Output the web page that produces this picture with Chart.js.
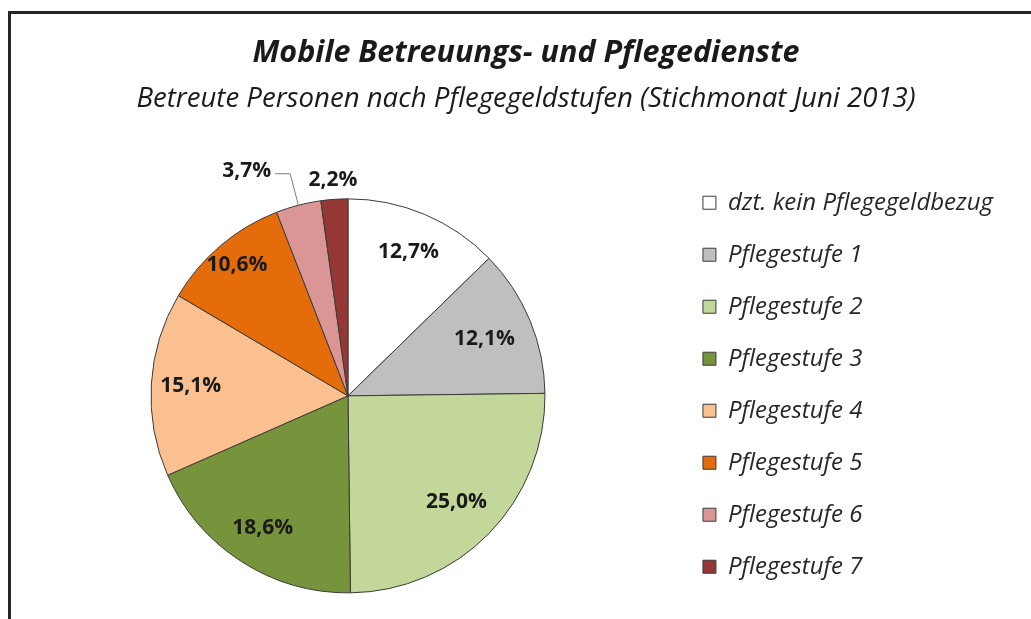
<!DOCTYPE html>
<html>
<head>
<meta charset="utf-8">
<script src="https://cdn.jsdelivr.net/npm/chart.js@4.4.1/dist/chart.umd.min.js"></script>
<style>
  html, body { margin: 0; padding: 0; background: #fff; }
  .chart { position: relative; width: 1031px; height: 619px; overflow: hidden; }
  .chart__frame {
    position: absolute; left: 8px; top: 11px; right: -10px; bottom: -10px;
    border-left: 3px solid #262626; border-top: 3px solid #262626;
    pointer-events: none;
  }
  canvas { display: block; }
</style>
</head>
<body>
<div class="chart">
  <canvas id="pie" width="1031" height="619"></canvas>
  <div class="chart__frame"></div>
</div>
<script>
const categories = [
  "dzt. kein Pflegegeldbezug",
  "Pflegestufe 1",
  "Pflegestufe 2",
  "Pflegestufe 3",
  "Pflegestufe 4",
  "Pflegestufe 5",
  "Pflegestufe 6",
  "Pflegestufe 7",
];
const shares = [12.7, 12.1, 25.0, 18.6, 15.1, 10.6, 3.7, 2.2];

const sliceColors = [
  "#ffffff",
  "#bfbfbf",
  "#c4d79b",
  "#77933c",
  "#fac090",
  "#e46c0a",
  "#d99694",
  "#953735",
];

// how far out the labels sit (fraction of radius), small slices go outside
const labelRadius = [0.79, 0.75, 0.77, 0.8, 0.8, 0.87, 1.25, 1.1];
const labelShift = [0, 0, 0, 0, 0, 0, -9.7, 0];
const leaderLine = [false, false, false, false, false, false, true, false];

const FONT = "'Open Sans', sans-serif";

const formatShare = (v) => v.toFixed(1).replace(".", ",") + "%";

const sliceLabels = {
  id: "sliceLabels",
  afterDatasetsDraw(chart) {
    const ctx = chart.ctx;
    const meta = chart.getDatasetMeta(0);
    ctx.save();
    ctx.font = "bold 21px " + FONT;
    ctx.fillStyle = "#1a1a1a";
    ctx.textAlign = "center";
    ctx.textBaseline = "middle";
    meta.data.forEach((arc, i) => {
      const { x, y, startAngle, endAngle, outerRadius } = arc.getProps(
        ["x", "y", "startAngle", "endAngle", "outerRadius"],
        true,
      );
      const mid = (startAngle + endAngle) / 2;
      const ang = mid + (labelShift[i] * Math.PI) / 180;
      const r = outerRadius * labelRadius[i];
      const tx = x + Math.cos(ang) * r;
      const ty = y + Math.sin(ang) * r;
      const text = formatShare(shares[i]);
      ctx.fillText(text, tx, ty);

      if (leaderLine[i]) {
        const w = ctx.measureText(text).width;
        const ex = x + Math.cos(mid) * outerRadius;
        const ey = y + Math.sin(mid) * outerRadius;
        const kx = x + Math.cos(mid) * outerRadius * 1.165;
        const ky = y + Math.sin(mid) * outerRadius * 1.165;
        ctx.beginPath();
        ctx.strokeStyle = "#7f7f7f";
        ctx.lineWidth = 1;
        ctx.moveTo(ex, ey);
        ctx.lineTo(kx, ky);
        ctx.lineTo(tx + w / 2 + 4, ky);
        ctx.stroke();
      }
    });
    ctx.restore();
  },
};

// nudge boxes: legend a bit higher, titles a bit right of canvas center
const nudgeBoxes = {
  id: "nudgeBoxes",
  afterLayout(chart) {
    chart.legend.top -= 10;
    chart.legend.bottom -= 10;
    chart.boxes
      .filter((box) => box.position === "top")
      .forEach((box) => {
        box.left += 14;
        box.right += 14;
      });
  },
};

const ctx = document.getElementById("pie").getContext("2d");

new Chart(ctx, {
  type: "pie",
  data: {
    labels: categories,
    datasets: [
      {
        data: shares,
        backgroundColor: sliceColors,
        borderColor: "#3a3a3a",
        borderWidth: 1,
        hoverOffset: 0,
        radius: 197,
      },
    ],
  },
  options: {
    responsive: false,
    animation: false,
    layout: {
      padding: { left: 21, right: 28, top: 0, bottom: 0 },
    },
    plugins: {
      title: {
        display: true,
        text: "Mobile Betreuungs- und Pflegedienste",
        color: "#1a1a1a",
        font: { family: FONT, size: 30.5, weight: "bold", style: "italic" },
        padding: { top: 35, bottom: 4 },
      },
      subtitle: {
        display: true,
        text: "Betreute Personen nach Pflegegeldstufen (Stichmonat Juni 2013)",
        color: "#1a1a1a",
        font: { family: FONT, size: 27.6, style: "italic" },
        padding: { top: 7, bottom: 57 },
      },
      legend: {
        position: "right",
        align: "start",
        fullSize: false,
        labels: {
          boxWidth: 13,
          boxHeight: 13,
          padding: 28,
          color: "#262626",
          font: { family: FONT, size: 24, style: "italic" },
        },
      },
      tooltip: { enabled: false },
    },
  },
  plugins: [sliceLabels, nudgeBoxes],
});
</script>
</body>
</html>
